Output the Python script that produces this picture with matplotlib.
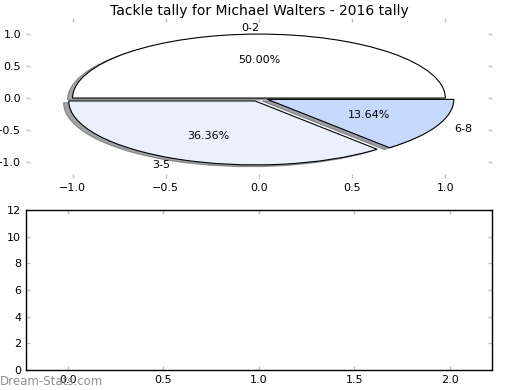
import matplotlib
matplotlib.use("Agg")
import matplotlib.pyplot as plt

# tackle tally buckets
labels = ["0-2", "3-5", "6-8"]
counts = [11, 8, 3]
slice_colors = ["#ffffff", "#eaf1fd", "#c6d9fc"]
explode = [0.0, 0.05, 0.05]

pie_ticks = [-1.0, -0.5, 0.0, 0.5, 1.0]
pie_ticklabels = ["\u22121.0", "\u22120.5", "0.0", "0.5", "1.0"]
bar_xticks = [0.0, 0.5, 1.0, 1.5, 2.0]
bar_yticks = [0, 2, 4, 6, 8, 10, 12]

plt.rcParams["font.family"] = "DejaVu Sans"

fig = plt.figure(figsize=(5.2, 3.9), dpi=100)
ax1 = fig.add_axes([0.05, 0.5436, 0.896, 0.41])
ax2 = fig.add_axes([0.05, 0.0513, 0.896, 0.41])

wedges, texts, autotexts = ax1.pie(
    counts,
    labels=labels,
    colors=slice_colors,
    explode=explode,
    autopct="%1.2f%%",
    shadow=True,
    startangle=0,
    frame=True,
    wedgeprops={"edgecolor": "black", "linewidth": 0.8},
    textprops={"fontsize": 8},
)
ax1.set_aspect("auto")
ax1.set_xlim(-1.25, 1.25)
ax1.set_ylim(-1.25, 1.25)
ax1.set_xticks(pie_ticks)
ax1.set_yticks(pie_ticks)
ax1.set_xticklabels(pie_ticklabels)
ax1.set_yticklabels(pie_ticklabels)
for sp in ax1.spines.values():
    sp.set_visible(False)
ax1.tick_params(direction="in", length=3, width=1, color="#c0c0c0",
                labelsize=8, top=True, right=True, pad=3.5)
ax1.set_title("Tackle tally for Michael Walters - 2016 tally", fontsize=10, pad=2)

ax2.set_xlim(-0.22, 2.22)
ax2.set_ylim(0, 12)
ax2.set_xticks(bar_xticks)
ax2.set_yticks(bar_yticks)
ax2.tick_params(direction="in", length=3, width=1, color="#c0c0c0",
                labelsize=8, top=True, right=True, pad=3.5)
for sp in ax2.spines.values():
    sp.set_color("black")
    sp.set_linewidth(1)

fig.text(0.0, 0.013, "Dream-Stats.com", fontsize=8.5, color="#909090")

fig.savefig("out.png", dpi=100)
